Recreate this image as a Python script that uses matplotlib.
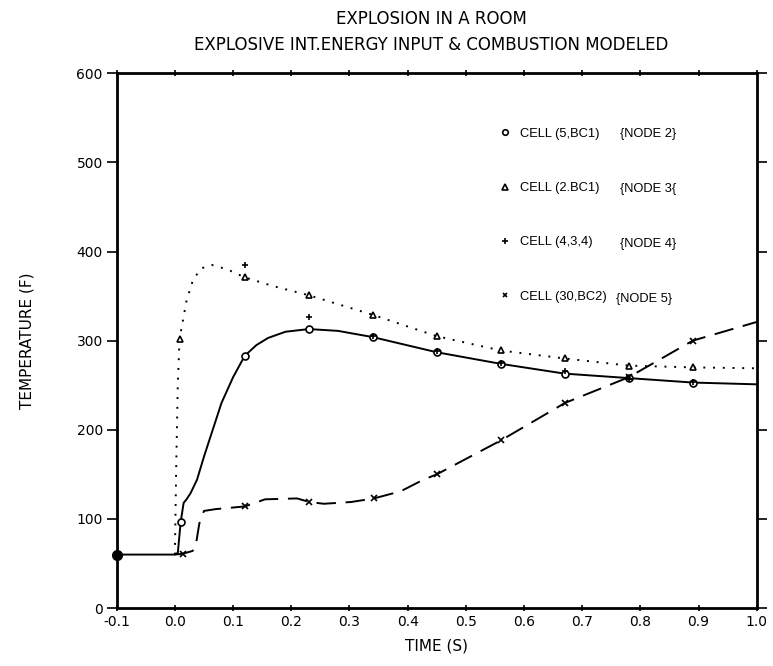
import matplotlib
matplotlib.use("Agg")
import matplotlib.pyplot as plt
from matplotlib.lines import Line2D

plt.rcParams["font.family"] = ["DejaVu Sans"]
plt.rcParams["axes.unicode_minus"] = False

# node 2, cell (5,BC1) - solid line
n2_t = [-0.1, 0.0, 0.005, 0.01, 0.015, 0.02, 0.027, 0.038, 0.05, 0.065, 0.08, 0.1,
        0.12, 0.14, 0.16, 0.19, 0.23, 0.28, 0.34, 0.45, 0.56, 0.67, 0.78, 0.89, 1.0]
n2_T = [60, 60, 62, 97, 118, 122, 129, 144, 170, 200, 230, 259,
        283, 295, 303, 310, 313, 311, 304, 287, 274, 263, 258, 253, 251]
n2_mt = [0.01, 0.12, 0.23, 0.34, 0.45, 0.56, 0.67, 0.78, 0.89]
n2_mT = [97, 283, 313, 304, 287, 274, 263, 258, 253]

# node 3, cell (2,BC1) - dotted line
n3_t = [0.0, 0.002, 0.005, 0.008, 0.02, 0.031, 0.045, 0.063, 0.09, 0.12,
        0.17, 0.23, 0.34, 0.45, 0.56, 0.67, 0.78, 0.89, 1.0]
n3_T = [60, 150, 252, 302, 345, 368, 381, 385, 380, 371,
        361, 351, 329, 305, 289, 280, 272, 270, 269]
n3_mt = [0.008, 0.12, 0.23, 0.34, 0.45, 0.56, 0.67, 0.78, 0.89]
n3_mT = [302, 371, 351, 329, 305, 289, 280, 272, 270]

# node 4, cell (4,3,4) - markers only
n4_mt = [0.12, 0.23, 0.34, 0.45, 0.56, 0.67, 0.78, 0.89]
n4_mT = [385, 326, 305, 288, 275, 266, 257, 254]

# node 5, cell (30,BC2) - long dashes
n5_t = [0.0, 0.0135, 0.03, 0.035, 0.042, 0.05, 0.07, 0.12, 0.155, 0.21, 0.231,
        0.256, 0.303, 0.342, 0.388, 0.427, 0.45, 0.56, 0.67, 0.78, 0.89, 1.0]
n5_T = [60, 61, 64, 67, 95, 109, 111, 114, 122, 123, 119,
        117, 119, 123, 131, 144, 150, 188, 230, 259, 300, 321]
n5_mt = [0.0135, 0.12, 0.231, 0.342, 0.45, 0.56, 0.67, 0.78, 0.89]
n5_mT = [61, 114, 119, 123, 150, 188, 230, 259, 300]

cells = ["CELL (5,BC1)", "CELL (2.BC1)", "CELL (4,3,4)", "CELL (30,BC2)"]
nodes = ["{NODE 2}", "{NODE 3{", "{NODE 4}", "{NODE 5}"]

x_ticks = [-0.1, 0.0, 0.1, 0.2, 0.3, 0.4, 0.5, 0.6, 0.7, 0.8, 0.9, 1.0]
y_ticks = [0, 100, 200, 300, 400, 500, 600]

fig = plt.figure(figsize=(7.73, 6.66), dpi=100)
ax = fig.add_axes([0.151, 0.087, 0.828, 0.803])

ax.plot(n2_t, n2_T, color="black", lw=1.4)
ax.plot(n2_mt, n2_mT, ls="none", marker="o", ms=5, mfc="white", mec="black", mew=1.2)
ax.plot(n3_t, n3_T, color="black", lw=1.4, ls=(0, (1, 4)))
ax.plot(n3_mt, n3_mT, ls="none", marker="^", ms=5, mfc="white", mec="black", mew=1.2)
ax.plot(n4_mt, n4_mT, ls="none", marker="+", ms=5, color="black", mew=1.2)
ax.plot(n5_t, n5_T, color="black", lw=1.4, ls=(0, (10, 5)))
ax.plot(n5_mt, n5_mT, ls="none", marker="x", ms=4, color="black", mew=1.2)
ax.plot([n2_t[0]], [n2_T[0]], ls="none", marker="o", ms=7, color="black", clip_on=False)

ax.set_xlim(-0.1, 1.0)
ax.set_ylim(0, 600)
ax.set_xticks(x_ticks)
ax.set_xticklabels([f"{v:.1f}" for v in x_ticks])
ax.set_yticks(y_ticks)
ax.tick_params(axis="both", labelsize=10, width=1.2, direction="out", pad=3)
ax.tick_params(axis="y", length=7, right=True)
ax.tick_params(axis="x", length=4, top=True, direction="inout")
for s in ax.spines.values():
    s.set_linewidth(2)

ax.set_xlabel("TIME (S)", fontsize=11, labelpad=7)
ax.set_ylabel("TEMPERATURE (F)", fontsize=11, labelpad=30)
fig.text(0.558, 0.972, "EXPLOSION IN A ROOM", ha="center", va="center", fontsize=12)
fig.text(0.558, 0.932, "EXPLOSIVE INT.ENERGY INPUT & COMBUSTION MODELED",
         ha="center", va="center", fontsize=12)

handles = [
    Line2D([], [], ls="none", marker="o", ms=4, mfc="white", mec="black", mew=1.2),
    Line2D([], [], ls="none", marker="^", ms=4, mfc="white", mec="black", mew=1.2),
    Line2D([], [], ls="none", marker="+", ms=4, color="black", mew=1.2),
    Line2D([], [], ls="none", marker="x", ms=3.5, color="black", mew=1.2),
]
leg = ax.legend(handles, cells, loc="upper left", bbox_to_anchor=(0.59, 0.908),
                frameon=False, prop={"family": "Liberation Sans", "size": 9.3},
                handlelength=0.8, handletextpad=0.8,
                labelspacing=3.28, borderaxespad=0)
node_x = [0.786, 0.787, 0.786, 0.78]
for i, n in enumerate(nodes):
    ax.text(node_x[i], 0.886 - i * 0.1025, n, transform=ax.transAxes,
            family="Liberation Sans", fontsize=9.3, va="center", ha="left")

fig.savefig("out.png", dpi=100)
